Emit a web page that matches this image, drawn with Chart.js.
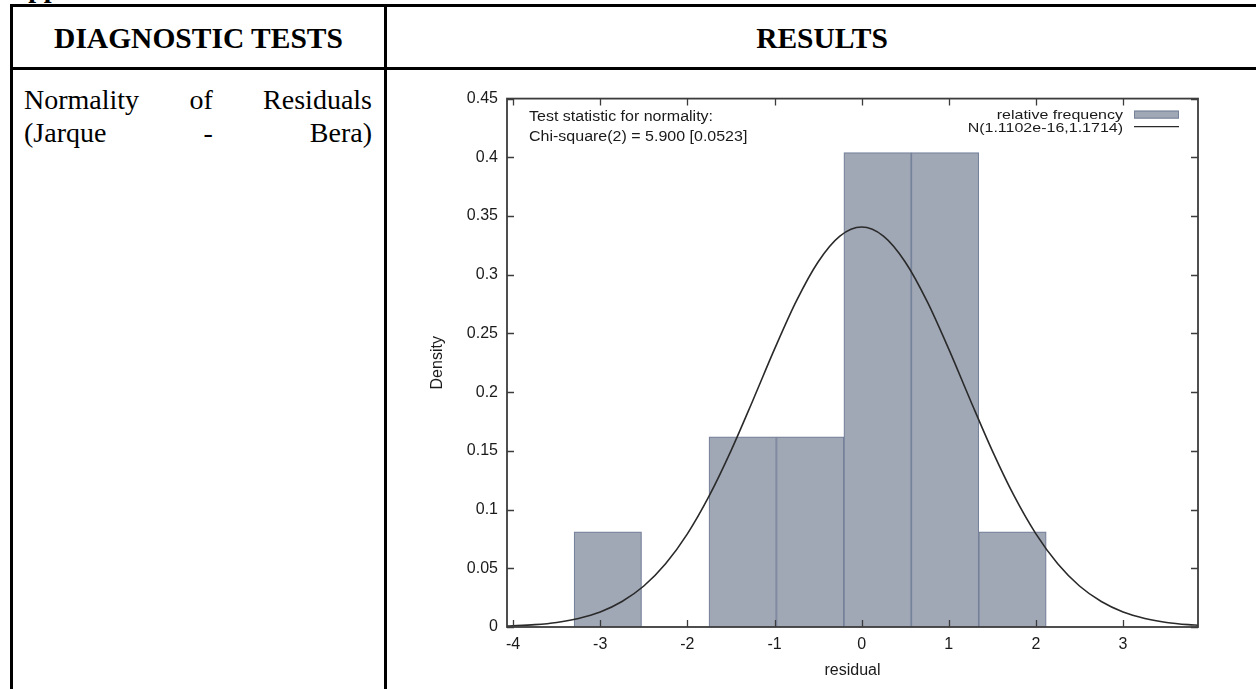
<!DOCTYPE html>
<html>
<head>
<meta charset="utf-8">
<title>Normality of Residuals</title>
<script src="https://cdn.jsdelivr.net/npm/chart.js"></script>
<style>
  html, body { margin: 0; padding: 0; background: #fff; }
  body { width: 1256px; height: 689px; position: relative; overflow: hidden; font-family: "Liberation Serif", "Times New Roman", serif; color: #000; }
  .rule { position: absolute; background: #000; }
  .top-note { position: absolute; left: 8px; top: -26px; font-size: 28px; line-height: 28px; font-weight: bold; }
  .head { position: absolute; top: 8px; height: 60px; line-height: 60px; font-size: 29.5px; font-weight: bold; text-align: center; }
  .cell-text { position: absolute; left: 24px; top: 83px; width: 348px; font-size: 28px; line-height: 33px; text-align: justify; text-align-last: justify; }
  .chart-box { position: absolute; left: 400px; top: 80px; width: 820px; height: 609px; }
</style>
</head>
<body>

<div class="top-note">Appendix</div>

<div class="rule" style="left:10px; top:4px; width:1246px; height:3px;"></div>
<div class="rule" style="left:10px; top:67px; width:1246px; height:3px;"></div>
<div class="rule" style="left:10px; top:4px; width:3px; height:685px;"></div>
<div class="rule" style="left:384px; top:4px; width:3px; height:685px;"></div>

<div class="head" style="left:13px; width:371px;">DIAGNOSTIC TESTS</div>
<div class="head" style="left:387px; width:870px;">RESULTS</div>

<div class="cell-text">Normality of Residuals<br>(Jarque - Bera)</div>

<div class="chart-box"><canvas id="histChart"></canvas></div>

<script>
// histogram of residuals (bin centres, density)
const binCenters = [-2.913, -2.139, -1.365, -0.591, 0.183, 0.957, 1.731];
const density    = [0.081, 0, 0.162, 0.162, 0.404, 0.404, 0.081];

// fitted normal curve
const curveX = [-4.07, -4, -3.75, -3.5, -3.25, -3, -2.75, -2.5, -2.25, -2, -1.75, -1.5, -1.25, -1, -0.75, -0.5, -0.25,
                0, 0.25, 0.5, 0.75, 1, 1.25, 1.5, 1.75, 2, 2.25, 2.5, 2.75, 3, 3.25, 3.5, 3.75, 3.86];
const curveY = [0.0008, 0.0010, 0.0020, 0.0039, 0.0073, 0.0128, 0.0217, 0.0349, 0.0538, 0.0793, 0.1116, 0.1500, 0.1927, 0.2366, 0.2775, 0.3109, 0.3329,
                0.3406, 0.3329, 0.3109, 0.2775, 0.2366, 0.1927, 0.1500, 0.1116, 0.0793, 0.0538, 0.0349, 0.0217, 0.0128, 0.0073, 0.0039, 0.0020, 0.0015];

const xTicks = [-4, -3, -2, -1, 0, 1, 2, 3];
const yTicks = [0, 0.05, 0.1, 0.15, 0.2, 0.25, 0.3, 0.35, 0.4, 0.45];

const noteLines   = ['Test statistic for normality:', 'Chi-square(2) = 5.900 [0.0523]'];
const histLabel   = 'relative frequency';
const normalLabel = 'N(1.1102e-16,1.1714)';

const barFill   = '#a0a7b5';
const barEdge   = '#76819a';
const curveCol  = '#2a2a2a';
const frameCol  = '#3c3c3c';
const textCol   = '#1a1a1a';
const FONT      = '"Liberation Sans", Arial, Helvetica, sans-serif';
const FONT_SIZE = 16;

// squeezed text, the gnuplot key sits in tight rows
function flatText(ctx, s, x, y, sy) {
  ctx.save();
  ctx.translate(x, y);
  ctx.scale(1, sy);
  ctx.fillText(s, 0, 0);
  ctx.restore();
}

// gnuplot-style frame: box round the plot, ticks pointing inwards, notes and key inside
const framePlugin = {
  id: 'gnuplotFrame',
  afterDraw(chart) {
    const { ctx, chartArea: a, scales: { x, y } } = chart;
    const tick = 7;
    ctx.save();
    ctx.strokeStyle = frameCol;
    ctx.lineWidth = 1.3;
    ctx.beginPath();
    x.ticks.forEach(t => {
      const px = Math.round(x.getPixelForValue(t.value)) + 0.5;
      ctx.moveTo(px, a.bottom); ctx.lineTo(px, a.bottom - tick);
      ctx.moveTo(px, a.top);    ctx.lineTo(px, a.top + tick);
    });
    y.ticks.forEach(t => {
      const py = Math.round(y.getPixelForValue(t.value)) + 0.5;
      ctx.moveTo(a.left, py);  ctx.lineTo(a.left + tick, py);
      ctx.moveTo(a.right, py); ctx.lineTo(a.right - tick, py);
    });
    ctx.stroke();
    ctx.lineWidth = 1.8;
    ctx.strokeRect(a.left, a.top, a.right - a.left, a.bottom - a.top);

    ctx.fillStyle = textCol;
    ctx.font = FONT_SIZE + 'px ' + FONT;
    ctx.textBaseline = 'alphabetic';
    ctx.textAlign = 'left';
    noteLines.forEach((s, i) => flatText(ctx, s, a.left + 22, a.top + 22 + i * 20, 0.92));

    const ds = chart.data.datasets;
    const keyRight = a.right - 75;
    ctx.textAlign = 'right';
    flatText(ctx, ds[1].label, keyRight, a.top + 20, 0.82);
    flatText(ctx, ds[0].label, keyRight, a.top + 33, 0.82);

    ctx.fillStyle = ds[1].backgroundColor;
    ctx.strokeStyle = ds[1].borderColor;
    ctx.lineWidth = 1;
    ctx.fillRect(a.right - 64, a.top + 12, 45, 8);
    ctx.strokeRect(a.right - 64 + 0.5, a.top + 12.5, 44, 7);

    ctx.strokeStyle = ds[0].borderColor;
    ctx.lineWidth = 1.4;
    ctx.beginPath();
    ctx.moveTo(a.right - 64, a.top + 28);
    ctx.lineTo(a.right - 19, a.top + 28);
    ctx.stroke();
    ctx.restore();
  }
};

new Chart(document.getElementById('histChart'), {
  type: 'bar',
  data: {
    datasets: [
      {
        type: 'line',
        label: normalLabel,
        data: curveX.map((v, i) => ({ x: v, y: curveY[i] })),
        borderColor: curveCol,
        borderWidth: 1.6,
        pointRadius: 0,
        fill: false,
        cubicInterpolationMode: 'monotone',
        order: 0,
      },
      {
        type: 'bar',
        label: histLabel,
        data: binCenters.map((v, i) => ({ x: v, y: density[i] })),
        backgroundColor: barFill,
        borderColor: barEdge,
        borderWidth: c => (c.raw && c.raw.y > 0 ? 1.2 : 0),
        barPercentage: 1,
        categoryPercentage: 1,
        order: 1,
      },
    ]
  },
  options: {
    responsive: true,
    maintainAspectRatio: false,
    animation: false,
    layout: { padding: { left: 0, top: 13, right: 22, bottom: 0 } },
    plugins: { legend: { display: false }, tooltip: { enabled: false } },
    scales: {
      x: {
        type: 'linear',
        min: -4.07,
        max: 3.86,
        offset: false,
        grid: { display: false, drawTicks: false },
        border: { display: false },
        afterBuildTicks: s => { s.ticks = xTicks.map(v => ({ value: v })); },
        afterFit: s => { s.height = 62; },
        ticks: { padding: 8, color: textCol, font: { family: FONT, size: FONT_SIZE }, callback: v => String(v), maxRotation: 0 },
        title: { display: true, text: 'residual', color: textCol, font: { family: FONT, size: FONT_SIZE }, padding: { top: 0, bottom: 9 } },
      },
      y: {
        min: 0,
        max: 0.45,
        grid: { display: false, drawTicks: false },
        border: { display: false },
        afterBuildTicks: s => { s.ticks = yTicks.map(v => ({ value: v })); },
        afterFit: s => { s.width = 107; },
        ticks: { padding: 9, color: textCol, font: { family: FONT, size: FONT_SIZE }, callback: v => String(v) },
        title: { display: true, text: 'Density', color: textCol, font: { family: FONT, size: FONT_SIZE }, padding: { top: 28, bottom: 0 } },
      }
    }
  },
  plugins: [framePlugin]
});
</script>

</body>
</html>
